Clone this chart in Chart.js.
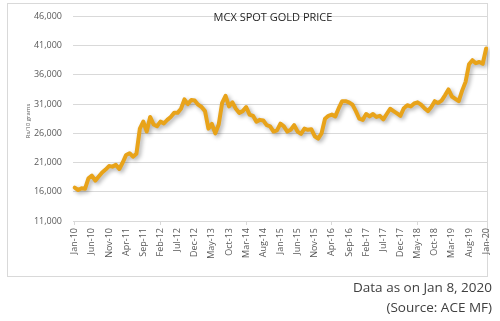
<!DOCTYPE html>
<html>
<head>
<meta charset="utf-8">
<script src="https://cdn.jsdelivr.net/npm/chart.js@4/dist/chart.umd.min.js"></script>
<style>
  html, body { margin: 0; padding: 0; background: #fff; }
  body { width: 500px; height: 321px; position: relative; overflow: hidden; font-family: "Open Sans", sans-serif; }
  #frame { position: absolute; left: 7px; top: 3px; width: 481px; height: 274px; border: 1px solid #d9d9d9; box-sizing: border-box; }
  #wrap { position: absolute; left: 0; top: 0; width: 500px; height: 321px; }
  .note { position: absolute; right: 8px; color: #404040; font-size: 13.5px; white-space: nowrap; }
</style>
</head>
<body>
<div id="frame"></div>
<div id="wrap"><canvas id="chart" width="500" height="321"></canvas></div>
<div class="note" style="top:278px">Data as on Jan 8, 2020</div>
<div class="note" style="top:298px">(Source: ACE MF)</div>
<script>
(() => {
  const months = ["Jan", "Feb", "Mar", "Apr", "May", "Jun", "Jul", "Aug", "Sep", "Oct", "Nov", "Dec"];
  const years = ["10", "11", "12", "13", "14", "15", "16", "17", "18", "19", "20"];

  // monthly labels Jan-10 .. Jan-20
  const labels = [];
  years.forEach((y) => months.forEach((m) => labels.push(`${m}-${y}`)));
  labels.length = 121;

  // Rs per 10 grams (one point per month)
  const gold2010 = [16700, 16300, 16600, 16500, 18300, 18750, 17900, 18600, 19300, 19800, 20400, 20300];
  const gold2011 = [20600, 19900, 21000, 22300, 22600, 22000, 22500, 26800, 28000, 26300, 28800, 27500];
  const gold2012 = [27200, 28000, 27700, 28300, 28800, 29500, 29500, 30200, 31800, 31000, 31700, 31600];
  const gold2013 = [30900, 30500, 29800, 26800, 27600, 26000, 27500, 31200, 32400, 30600, 31300, 30200];
  const gold2014 = [29500, 29800, 30500, 29200, 29000, 28000, 28300, 28200, 27400, 27200, 26300, 26500];
  const gold2015 = [27650, 27200, 26300, 26600, 27400, 26300, 25900, 26800, 26600, 26700, 25500, 25100];
  const gold2016 = [26000, 28500, 29000, 29200, 28900, 30300, 31500, 31500, 31300, 30900, 29800, 28500];
  const gold2017 = [28300, 29300, 28900, 29300, 28800, 29000, 28400, 29300, 30200, 29800, 29400, 29000];
  const gold2018 = [30300, 30800, 30600, 31100, 31300, 30900, 30300, 29800, 30500, 31500, 31200, 31600];
  const gold2019 = [32500, 33500, 32300, 31900, 31500, 33300, 34800, 37800, 38500, 38000, 38200, 37900];
  const gold2020 = [40500];

  const prices = [].concat(gold2010, gold2011, gold2012, gold2013, gold2014, gold2015,
    gold2016, gold2017, gold2018, gold2019, gold2020);

  const yTicks = [11000, 16000, 21000, 26000, 31000, 36000, 41000, 46000];

  const labelEvery = 5;
  const grey = "#d9d9d9";
  const tickColor = "#595959";

  const shadowPlugin = {
    id: "shadowPlugin",
    beforeDatasetDraw(c) {
      const ctx = c.ctx;
      ctx.save();
      ctx.shadowColor = "rgba(0,0,0,0.32)";
      ctx.shadowBlur = 4;
      ctx.shadowOffsetX = 2;
      ctx.shadowOffsetY = 2;
    },
    afterDatasetDraw(c) {
      c.ctx.restore();
    }
  };

  const textPlugin = {
    id: "textPlugin",
    afterDraw(c) {
      const ctx = c.ctx;
      ctx.save();
      ctx.fillStyle = "#262626";
      ctx.font = "11px 'Open Sans', sans-serif";
      ctx.textAlign = "center";
      ctx.textBaseline = "middle";
      ctx.fillText("MCX SPOT GOLD PRICE", 273, 18);

      ctx.translate(28, 121);
      ctx.rotate(-Math.PI / 2);
      ctx.fillStyle = "#595959";
      ctx.font = "6px 'Open Sans', sans-serif";
      ctx.fillText("Rs/10 grams", 0, 0);
      ctx.restore();
    }
  };

  new Chart(document.getElementById("chart"), {
    type: "line",
    data: {
      labels,
      datasets: [{
        data: prices,
        borderColor: "#e8a31a",
        borderWidth: 4,
        pointRadius: 0,
        tension: 0,
        borderJoinStyle: "round",
        borderCapStyle: "round"
      }]
    },
    options: {
      responsive: false,
      animation: false,
      layout: { padding: { top: 13, right: 12, left: 0, bottom: 0 } },
      plugins: { legend: { display: false }, tooltip: { enabled: false } },
      scales: {
        x: {
          offset: true,
          afterFit(s) { s.height = 100; },
          border: { color: grey },
          grid: {
            drawOnChartArea: false,
            tickLength: 4,
            color: (ctx) => (ctx.index % labelEvery === 0 ? grey : "rgba(0,0,0,0)")
          },
          ticks: {
            autoSkip: false,
            maxRotation: 90,
            minRotation: 90,
            padding: 3,
            color: tickColor,
            font: { family: "'Open Sans', sans-serif", size: 9 },
            callback(v, i) { return i % labelEvery === 0 ? labels[i] : null; }
          }
        },
        y: {
          min: 11000,
          max: 46000,
          afterFit(s) { s.width = 73; },
          afterBuildTicks(s) { s.ticks = yTicks.map((v) => ({ value: v })); },
          border: { display: false },
          grid: { color: grey, drawTicks: false },
          ticks: {
            padding: 11,
            color: tickColor,
            font: { family: "'Open Sans', sans-serif", size: 9 },
            callback(v) { return v.toLocaleString("en-US"); }
          }
        }
      }
    },
    plugins: [shadowPlugin, textPlugin]
  });
})();
</script>
</body>
</html>
